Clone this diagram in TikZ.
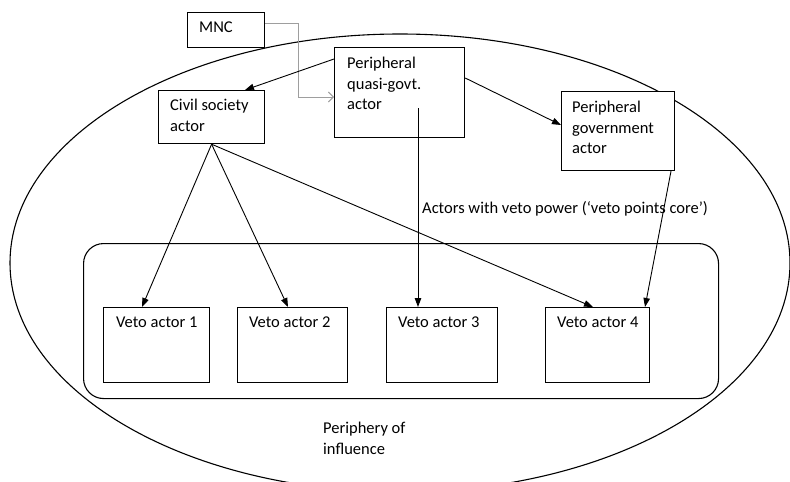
\documentclass[tikz,border=0pt]{standalone}
\usepackage{fontspec}
\setmainfont{Carlito}
\usetikzlibrary{arrows.meta}
\begin{document}
\begin{tikzpicture}[x=1pt,y=-1pt,
  box/.style={draw, fill=white, line width=1.2pt, inner sep=0pt, anchor=north west},
  txt/.style={inner sep=0pt, font=\fontsize{16.5}{20.5}\selectfont, align=left},
  arr/.style={-{Triangle[length=9pt,width=6.5pt]}, line width=0.9pt},
  garr/.style={-{Straight Barb[length=5pt,width=10pt]}, draw=black!38, line width=0.9pt}]
\useasboundingbox (0,0) rectangle (790,482);
\begin{scope}
\clip (0,0) rectangle (790,482);
\draw[line width=1.1pt] (400,263) ellipse [x radius=390, y radius=229];
\end{scope}
% core
\node[box, line width=1.1pt, rounded corners=20pt, fill=none, minimum width=635pt, minimum height=155pt] (core) at (83,243) {};
% boxes
\node[box, minimum width=77pt, minimum height=35pt] (mnc) at (187,12) {};
\node[box, minimum width=130pt, minimum height=90pt] (quasi) at (334,47) {};
\node[box, minimum width=106pt, minimum height=53pt] (civil) at (158,90) {};
\node[box, minimum width=113pt, minimum height=79pt] (govt) at (561,91) {};
\node[box, minimum width=106pt, minimum height=75pt] (v1) at (103,307) {};
\node[box, minimum width=110pt, minimum height=75pt] (v2) at (237,307) {};
\node[box, minimum width=111pt, minimum height=75pt] (v3) at (386,307) {};
\node[box, minimum width=104pt, minimum height=75pt] (v4) at (545,307) {};
% texts
\node[txt, anchor=base west] (tmnc) at (199,32) {MNC};
\node[txt, anchor=north west] (tquasi) at (347,57) {Peripheral\\quasi-govt.\\actor};
\node[txt, anchor=north west] (tcivil) at (170,99) {Civil society\\actor};
\node[txt, anchor=north west] (tgovt) at (572,101) {Peripheral\\government\\actor};
\node[txt, anchor=base west] (tv1) at (116,327) {Veto actor 1};
\node[txt, anchor=base west] (tv2) at (249,327) {Veto actor 2};
\node[txt, anchor=base west] (tv3) at (398,327) {Veto actor 3};
\node[txt, anchor=base west] (tv4) at (557,327) {Veto actor 4};
\node[txt, anchor=base west] (tcore) at (422,213) {Actors with veto power (‘veto points core’)};
\node[txt, anchor=north west] (tper) at (323,422) {Periphery of\\influence};
% connectors
\coordinate (qs) at (418,108);
\draw[garr] (mnc.east |- 0,23) -- (298,23) -- (298,97) -- (quasi.west |- 0,97);
\draw[arr] (quasi.west |- 0,59) -- (civil.north -| 245,0);
\draw[arr] (quasi.east |- 0,78) -- (govt.west |- 0,125);
\draw[arr] (qs) -- (v3.north -| qs);
\draw[arr] (civil.south) -- (v1.north -| 142,0);
\draw[arr] (civil.south) -- (v2.north -| 288,0);
\draw[arr] (civil.south) -- (v4.north -| 593,0);
\draw[arr] (govt.south -| 671,0) -- (v4.north -| 645,0);
\end{tikzpicture}
\end{document}
